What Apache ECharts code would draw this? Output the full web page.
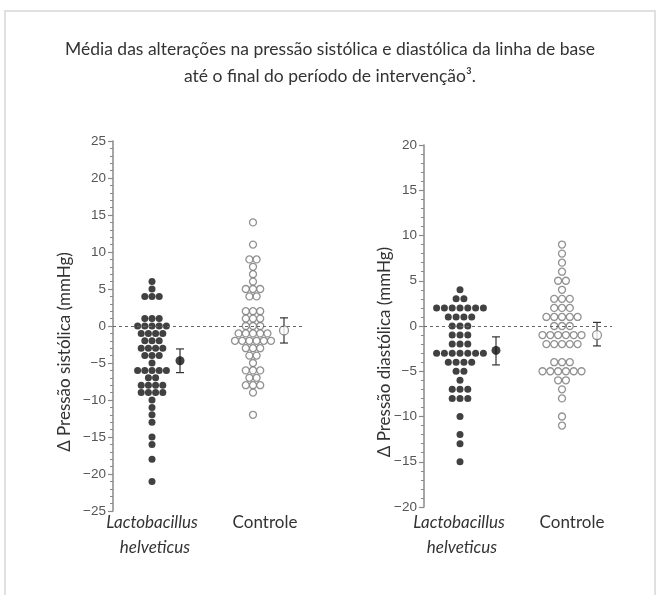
<!DOCTYPE html>
<html>
<head>
<meta charset="utf-8">
<script src="https://cdn.jsdelivr.net/npm/echarts@6/dist/echarts.min.js"></script>
<style>
html, body { margin: 0; padding: 0; background: #fff; }
#frame { position: absolute; left: 4px; top: 10px; width: 648px; height: 590px; border: 2px solid #e0e0e0; border-bottom: none; }
#chart { position: absolute; left: 0; top: 0; width: 660px; height: 595px; }
</style>
</head>
<body>
<div id="frame"></div>
<div id="chart"></div>
<script>
// valores individuais (mmHg)
var sysLacto = [6, 5, 4, 4, 4, 1, 1, 1, 0, 0, 0, 0, 0, -1, -1, -1, -1, -2, -2, -2,
  -3, -3, -3, -3, -4, -4, -4, -5, -6, -6, -6, -6, -6, -7, -7, -8, -8, -8, -8,
  -9, -9, -9, -9, -10, -11, -12, -13, -15, -16, -18, -21];
var sysControle = [14, 11, 9, 9, 8, 7, 6, 5, 5, 5, 4, 4, 2, 2, 2, 1, 1, 1, 0, 0, 0,
  -1, -1, -1, -1, -1, -2, -2, -2, -2, -2, -2, -3, -3, -3, -4, -4, -5, -6, -6, -6,
  -7, -7, -8, -8, -8, -9, -12];
var diaLacto = [4, 3, 3, 2, 2, 2, 2, 2, 2, 2, 1, 1, 1, 1, 0, 0, 0, -1, -1, -1, -2, -2, -2,
  -3, -3, -3, -3, -3, -3, -3, -4, -4, -4, -4, -5, -5, -6, -7, -7, -7, -8, -8, -8,
  -10, -12, -13, -15];
var diaControle = [9, 8, 7, 6, 5, 5, 4, 3, 3, 3, 2, 2, 2, 1, 1, 1, 1, 1, 0, 0, 0,
  -1, -1, -1, -1, -1, -1, -2, -2, -2, -2, -2, -4, -4, -4, -5, -5, -5, -5, -5, -5,
  -6, -6, -7, -8, -10, -11];

// média e erro: [média, inferior, superior]
var sysLactoMean = [-4.7, -6.3, -3.1];
var sysControleMean = [-0.6, -2.3, 1.1];
var diaLactoMean = [-2.7, -4.3, -1.2];
var diaControleMean = [-1.0, -2.2, 0.4];

var groupNames = ['Lactobacillus', 'Controle'];
var axisNames = ['Δ Pressão sistólica (mmHg)', 'Δ Pressão diastólica (mmHg)'];
var sysTicks = [-25, 25, 5];
var diaTicks = [-20, 20, 5];

var myChart = echarts.init(document.getElementById('chart'));

// empilha os pontos com o mesmo valor lado a lado
function swarm(values, center, step) {
  var counts = {}, used = {}, out = [];
  values.forEach(function (v) { counts[v] = (counts[v] || 0) + 1; });
  values.forEach(function (v) {
    var k = used[v] || 0;
    used[v] = k + 1;
    out.push([center + (k - (counts[v] - 1) / 2) * step, v]);
  });
  return out;
}

function minusFmt(v) { return v < 0 ? '\u2212' + Math.abs(v) : String(v); }

function yAxisCfg(idx, ticks) {
  return {
    type: 'value', gridIndex: idx, min: ticks[0], max: ticks[1], interval: ticks[2],
    axisLine: { show: true, lineStyle: { color: '#8a8a8a', width: 1.5 } },
    axisTick: { show: true, length: 5, lineStyle: { color: '#8a8a8a', width: 1.2 } },
    minorTick: { show: true, splitNumber: 5, length: 3, lineStyle: { color: '#8a8a8a' } },
    splitLine: { show: false },
    axisLabel: { color: '#555', fontSize: 13.5, fontFamily: 'Liberation Sans', margin: 7, formatter: minusFmt }
  };
}

function errBar(idx, x, m) {
  return {
    type: 'custom', xAxisIndex: idx, yAxisIndex: idx, z: 3,
    data: [[x, m[1], m[2]]],
    encode: { x: 0, y: [1, 2] },
    renderItem: function (params, api) {
      var lo = api.coord([api.value(0), api.value(1)]);
      var hi = api.coord([api.value(0), api.value(2)]);
      var w = 4, st = { stroke: '#333', lineWidth: 1.2 };
      return { type: 'group', children: [
        { type: 'line', shape: { x1: lo[0], y1: lo[1], x2: hi[0], y2: hi[1] }, style: st },
        { type: 'line', shape: { x1: lo[0] - w, y1: lo[1], x2: lo[0] + w, y2: lo[1] }, style: st },
        { type: 'line', shape: { x1: hi[0] - w, y1: hi[1], x2: hi[0] + w, y2: hi[1] }, style: st }
      ] };
    }
  };
}

var filled = { color: '#111' };
var hollow = { color: '#fff', borderColor: '#777', borderWidth: 1.3 };

function dots(idx, data, style, size, z) {
  return { type: 'scatter', xAxisIndex: idx, yAxisIndex: idx, symbolSize: size, z: z || 2,
    itemStyle: style, data: data, silent: true };
}

var zeroLine = function (idx, end) {
  return { type: 'line', xAxisIndex: idx, yAxisIndex: idx, data: [], silent: true,
    markLine: { symbol: 'none', silent: true, label: { show: false },
      lineStyle: { color: '#666', type: [3, 3], width: 1.2 },
      data: [[{ coord: [0, 0] }, { coord: [end, 0] }]] } };
};

var option = {
  animation: false,
  title: {
    text: 'Média das alterações na pressão sistólica e diastólica da linha de base\naté o final do período de intervenção³.',
    left: 'center', top: 31,
    textStyle: { color: '#333', fontSize: 17.5, fontWeight: 'normal', fontFamily: 'Lato', lineHeight: 27, align: 'center' }
  },
  grid: [
    { left: 113, top: 141, width: 200, height: 370 },
    { left: 424, top: 145, width: 200, height: 362 }
  ],
  xAxis: [
    { type: 'value', gridIndex: 0, min: 0, max: 1, show: false },
    { type: 'value', gridIndex: 1, min: 0, max: 1, show: false }
  ],
  yAxis: [yAxisCfg(0, sysTicks), yAxisCfg(1, diaTicks)],
  series: [
    zeroLine(0, 0.96),
    zeroLine(1, 0.94),
    dots(0, swarm(sysLacto, 0.195, 0.036), filled, 7),
    dots(0, swarm(sysControle, 0.70, 0.036), hollow, 7),
    dots(1, swarm(diaLacto, 0.18, 0.039), filled, 7),
    dots(1, swarm(diaControle, 0.69, 0.039), hollow, 7),
    errBar(0, 0.335, sysLactoMean),
    errBar(0, 0.855, sysControleMean),
    errBar(1, 0.36, diaLactoMean),
    errBar(1, 0.865, diaControleMean),
    dots(0, [[0.335, sysLactoMean[0]]], filled, 9, 4),
    dots(0, [[0.855, sysControleMean[0]]], hollow, 9, 4),
    dots(1, [[0.36, diaLactoMean[0]]], filled, 9, 4),
    dots(1, [[0.865, diaControleMean[0]]], hollow, 9, 4)
  ]
};
myChart.setOption(option);

// rótulos dos grupos e dos eixos
var labelX = [[0.195, 0.76], [0.175, 0.74]];
var bottoms = [sysTicks[0], diaTicks[0]];
var nameX = [65, 385];
var graphics = [];
[0, 1].forEach(function (g) {
  var p1 = myChart.convertToPixel({ gridIndex: g }, [labelX[g][0], bottoms[g]]);
  var p2 = myChart.convertToPixel({ gridIndex: g }, [labelX[g][1], bottoms[g]]);
  var base = { fill: '#333', fontSize: 17, fontFamily: 'Lato', textAlign: 'center', textVerticalAlign: 'middle' };
  graphics.push({ type: 'text', x: p1[0], y: 523,
    style: Object.assign({ text: groupNames[0], fontStyle: 'italic' }, base) });
  graphics.push({ type: 'text', x: p1[0] + 3, y: 548,
    style: Object.assign({ text: 'helveticus', fontStyle: 'italic' }, base) });
  graphics.push({ type: 'text', x: p2[0], y: 523,
    style: Object.assign({ text: groupNames[1] }, base) });
  graphics.push({ type: 'text', x: nameX[g], y: 352, rotation: Math.PI / 2,
    style: Object.assign({ text: axisNames[g] }, base) });
});
myChart.setOption({ graphic: graphics });
</script>
</body>
</html>
